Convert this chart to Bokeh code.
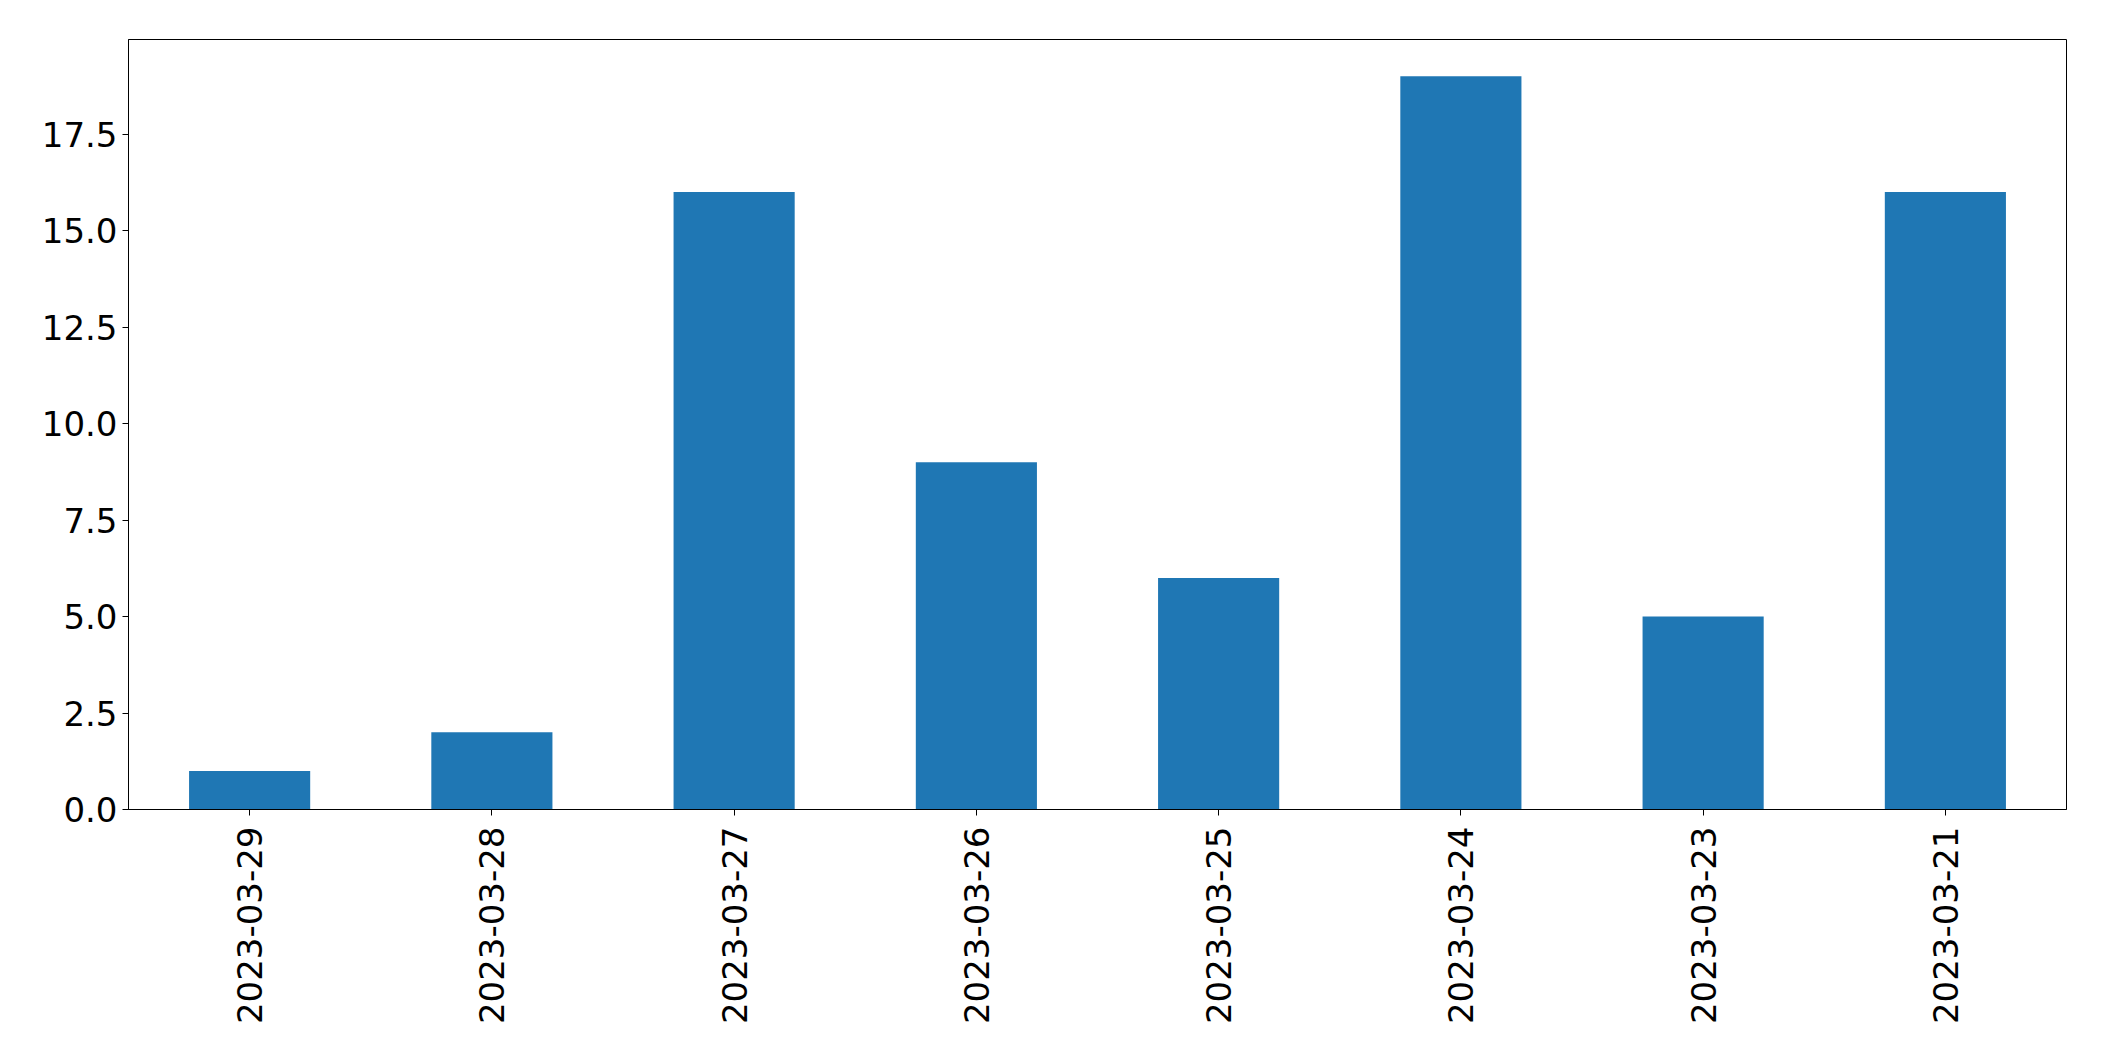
import math
from bokeh.plotting import figure
from bokeh.models import FactorRange, Range1d, FixedTicker, NumeralTickFormatter
from bokeh.embed import file_html
from bokeh.resources import INLINE

dates = ["2023-03-29", "2023-03-28", "2023-03-27", "2023-03-26",
         "2023-03-25", "2023-03-24", "2023-03-23", "2023-03-21"]
counts = [1, 2, 16, 9, 6, 19, 5, 16]
y_ticks = [0, 2.5, 5, 7.5, 10, 12.5, 15, 17.5]

p = figure(
    x_range=FactorRange(factors=dates, range_padding=0),
    y_range=Range1d(0, 19.95),
    width=2090, height=1050,
    min_border_left=128, min_border_right=24,
    min_border_top=39, min_border_bottom=241,
    output_backend="svg", toolbar_location=None,
)

p.vbar(x=dates, top=counts, width=0.5, color="#1f77b4", line_color=None)

p.xgrid.visible = False
p.ygrid.visible = False
p.outline_line_color = "black"
p.outline_line_width = 1
p.outline_line_alpha = 1

for ax in (p.xaxis[0], p.yaxis[0]):
    ax.axis_line_color = "black"
    ax.major_tick_line_color = "black"
    ax.major_tick_in = 0
    ax.major_tick_out = 6
    ax.minor_tick_line_color = None
    ax.major_label_text_font = "DejaVu Sans"
    ax.major_label_text_font_size = "34px"
    ax.major_label_text_color = "black"

p.yaxis[0].ticker = FixedTicker(ticks=y_ticks)
p.yaxis[0].formatter = NumeralTickFormatter(format="0.0")
p.yaxis[0].major_label_standoff = 5
p.xaxis[0].major_label_orientation = math.pi / 2
p.xaxis[0].major_label_standoff = 11

open("out.html", "w").write(file_html(p, INLINE))
